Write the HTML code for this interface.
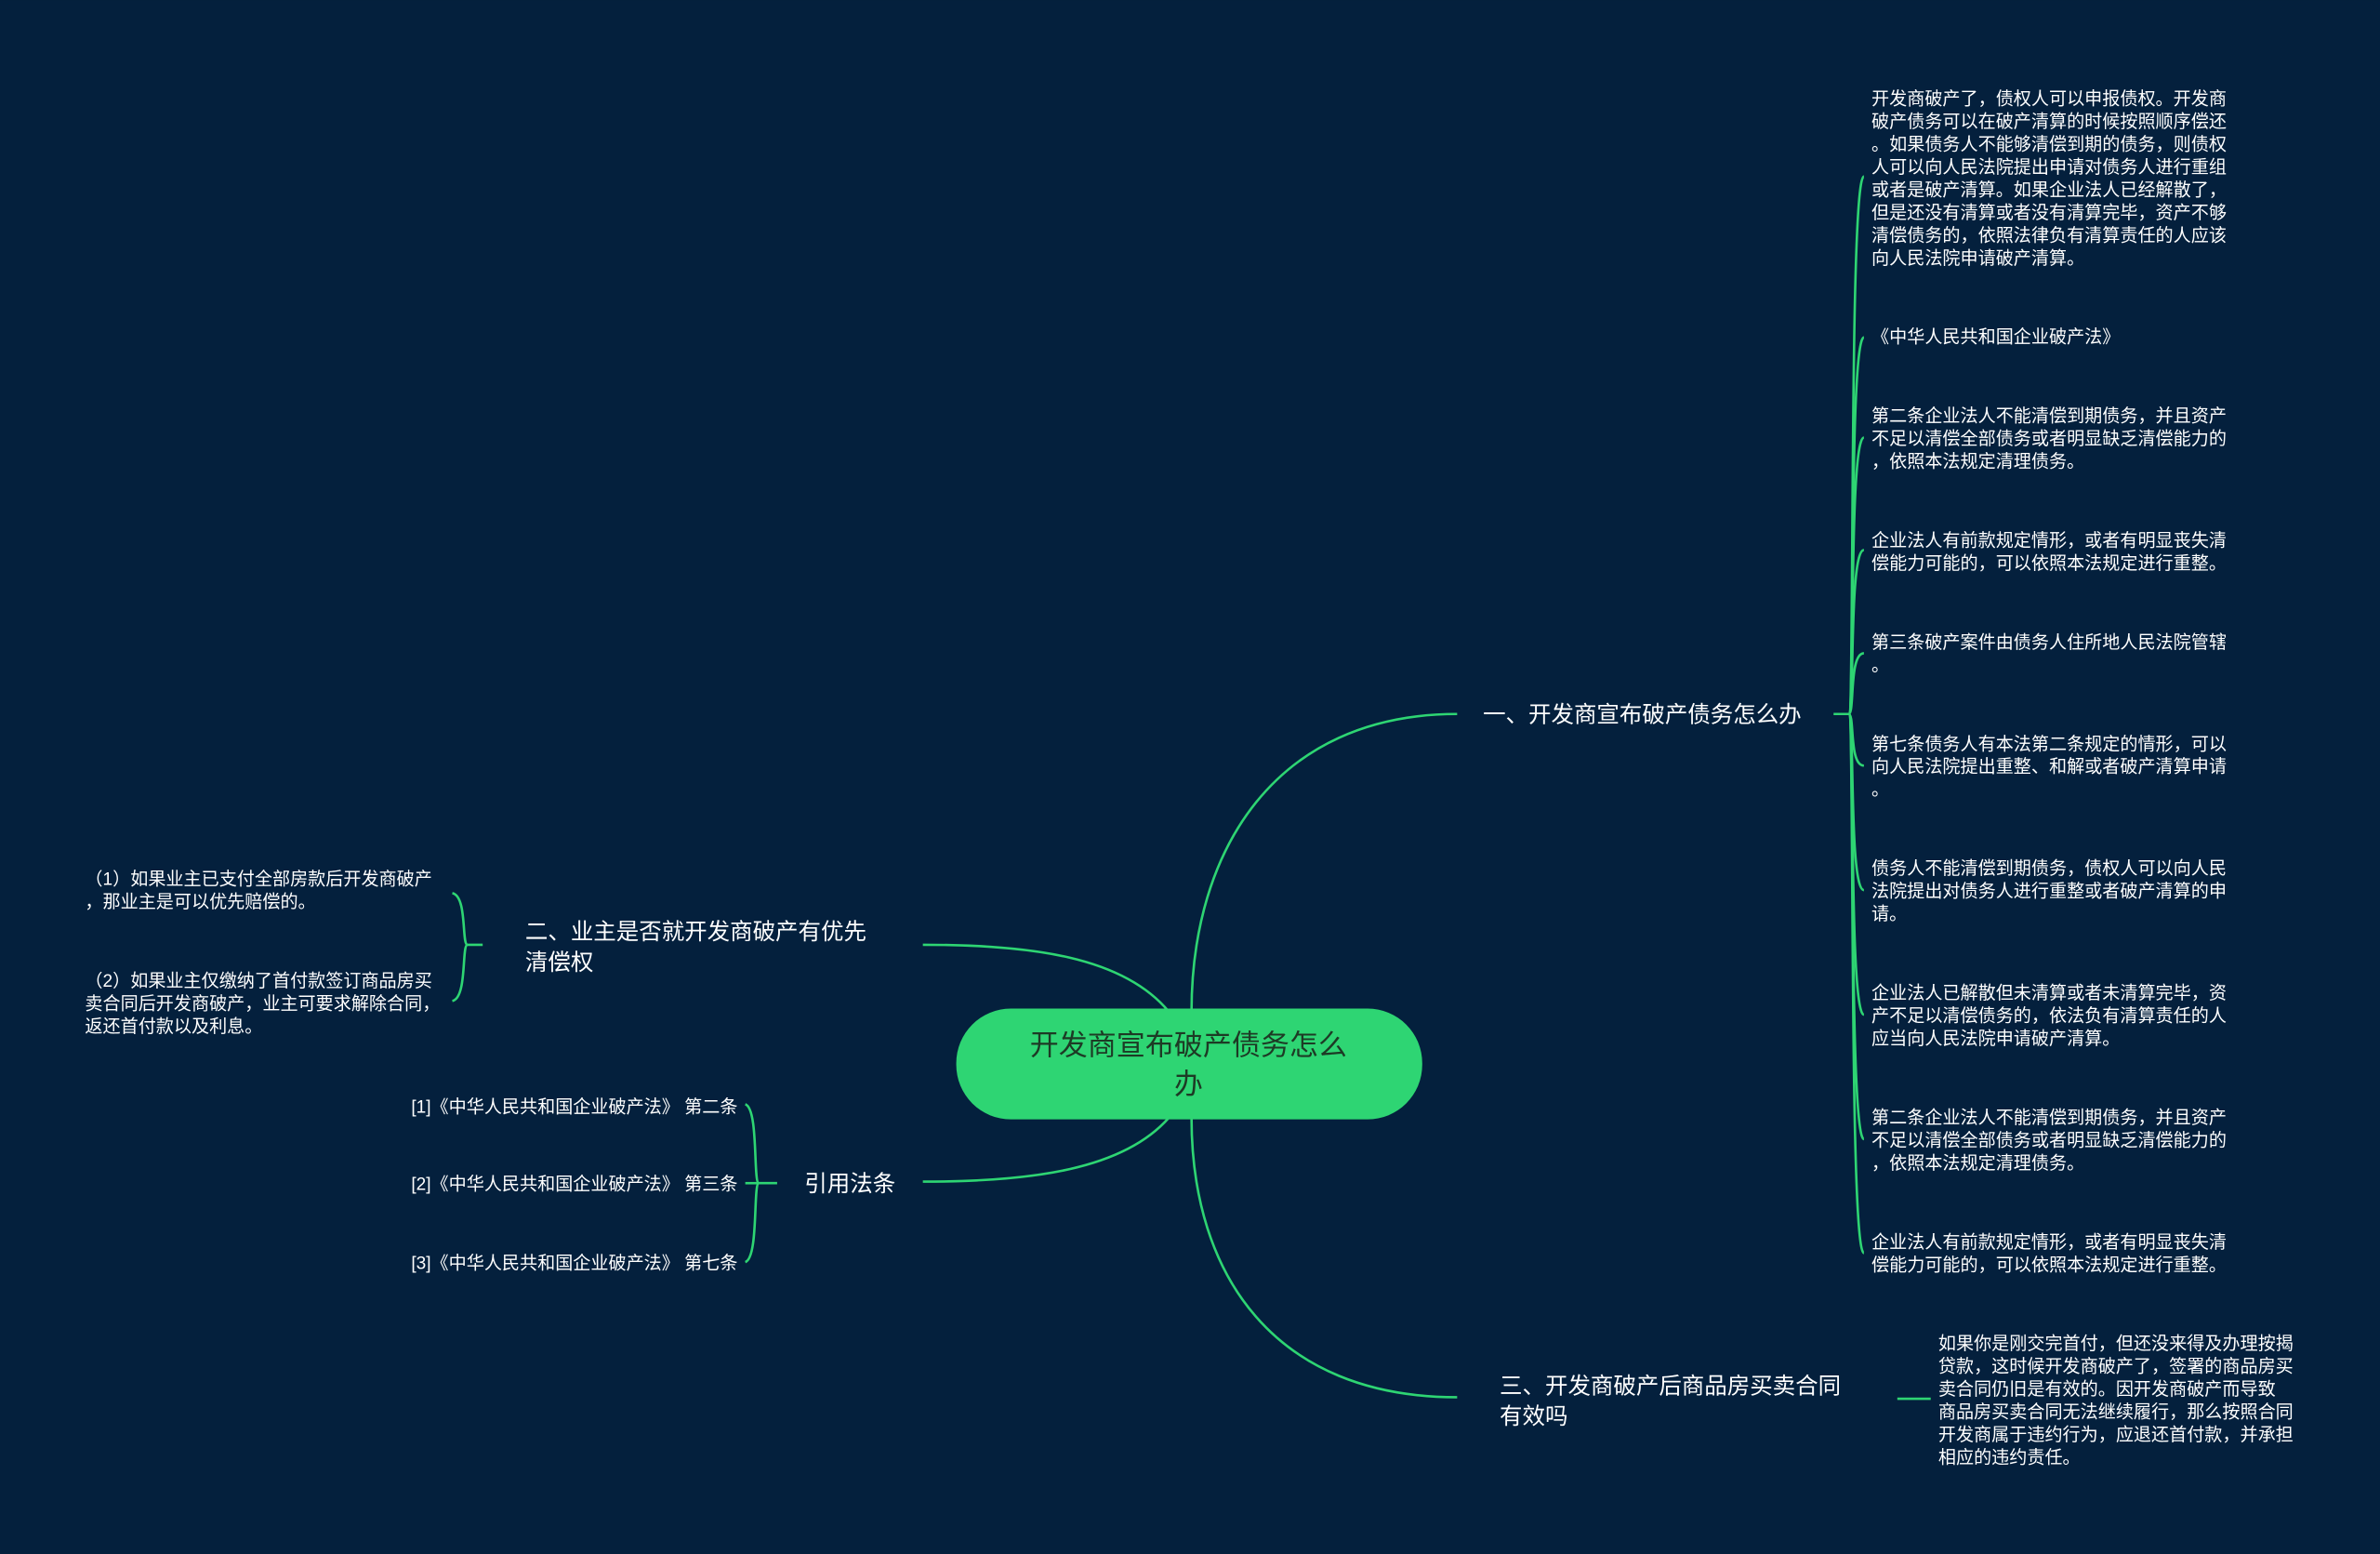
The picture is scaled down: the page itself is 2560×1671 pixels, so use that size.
<!DOCTYPE html>
<html><head><meta charset="utf-8"><style>
html,body{margin:0;padding:0;background:#04203d;}
svg{display:block}
text{font-family:"Liberation Sans","Noto Sans CJK SC",sans-serif;fill:#ffffff;dominant-baseline:middle}
.s{font-size:11.7px}
.m{font-size:15px}
</style></head><body>
<svg width="2560" height="1671" viewBox="0 0 1568 1023" xmlns="http://www.w3.org/2000/svg">
<rect width="1568" height="1023" fill="#04203d"/>
<g fill="none" stroke="#2ed573" stroke-width="1.6">
<path d="M785,666 C785,560 840,470 960,470"/>
<path d="M770,666 C740,630 680,622 608,622"/>
<path d="M770,736 C740,770 680,778 608,778"/>
<path d="M785,736 C785,840 840,920 960,920"/>
<path d="M1208,470 L1218,470"/>
<path d="M1218,470 C1222,470 1218,116 1228,116"/>
<path d="M1218,470 C1222,470 1218,222 1228,222"/>
<path d="M1218,470 C1222,470 1218,288 1228,288"/>
<path d="M1218,470 C1222,470 1218,362 1228,362"/>
<path d="M1218,470 C1222,470 1218,430 1228,430"/>
<path d="M1218,470 C1222,470 1218,504 1228,504"/>
<path d="M1218,470 C1222,470 1218,586 1228,586"/>
<path d="M1218,470 C1222,470 1218,668 1228,668"/>
<path d="M1218,470 C1222,470 1218,750 1228,750"/>
<path d="M1218,470 C1222,470 1218,825 1228,825"/>
<path d="M318,622 L308,622"/>
<path d="M308,622 C304,622 308,590 298,588"/>
<path d="M308,622 C304,622 308,657 298,659"/>
<path d="M512,779 L500,779"/>
<path d="M500,779 C496,779 500,730 491,727"/>
<path d="M500,779 L491,779"/>
<path d="M500,779 C496,779 500,828 491,831"/>
<path d="M1250,921 L1272,921"/>
</g>
<rect x="630" y="664" width="307" height="73" rx="36" fill="#2ed573"/>
<g transform="translate(0,1.5)">
<text x="783" y="688" text-anchor="middle" style="font-size:19px;fill:#1d3a25">开发商宣布破产债务怎么</text>
<text x="783" y="714" text-anchor="middle" style="font-size:19px;fill:#1d3a25">办</text>

<text class="m" x="977" y="470">一、开发商宣布破产债务怎么办</text>
<text class="m" x="346" y="613">二、业主是否就开发商破产有优先</text>
<text class="m" x="346" y="633">清偿权</text>
<text class="m" x="530" y="779">引用法条</text>
<text class="m" x="988" y="912">三、开发商破产后商品房买卖合同</text>
<text class="m" x="988" y="932">有效吗</text>

<text class="s" x="1233" y="64">开发商破产了，债权人可以申报债权。开发商</text>
<text class="s" x="1233" y="79">破产债务可以在破产清算的时候按照顺序偿还</text>
<text class="s" x="1233" y="94">。如果债务人不能够清偿到期的债务，则债权</text>
<text class="s" x="1233" y="109">人可以向人民法院提出申请对债务人进行重组</text>
<text class="s" x="1233" y="124">或者是破产清算。如果企业法人已经解散了，</text>
<text class="s" x="1233" y="139">但是还没有清算或者没有清算完毕，资产不够</text>
<text class="s" x="1233" y="154">清偿债务的，依照法律负有清算责任的人应该</text>
<text class="s" x="1233" y="169">向人民法院申请破产清算。</text>
<text class="s" x="1233" y="221">《中华人民共和国企业破产法》</text>
<text class="s" x="1233" y="273">第二条企业法人不能清偿到期债务，并且资产</text>
<text class="s" x="1233" y="288">不足以清偿全部债务或者明显缺乏清偿能力的</text>
<text class="s" x="1233" y="303">，依照本法规定清理债务。</text>
<text class="s" x="1233" y="355">企业法人有前款规定情形，或者有明显丧失清</text>
<text class="s" x="1233" y="370">偿能力可能的，可以依照本法规定进行重整。</text>
<text class="s" x="1233" y="422">第三条破产案件由债务人住所地人民法院管辖</text>
<text class="s" x="1233" y="437">。</text>
<text class="s" x="1233" y="489">第七条债务人有本法第二条规定的情形，可以</text>
<text class="s" x="1233" y="504">向人民法院提出重整、和解或者破产清算申请</text>
<text class="s" x="1233" y="519">。</text>
<text class="s" x="1233" y="571">债务人不能清偿到期债务，债权人可以向人民</text>
<text class="s" x="1233" y="586">法院提出对债务人进行重整或者破产清算的申</text>
<text class="s" x="1233" y="601">请。</text>
<text class="s" x="1233" y="653">企业法人已解散但未清算或者未清算完毕，资</text>
<text class="s" x="1233" y="668">产不足以清偿债务的，依法负有清算责任的人</text>
<text class="s" x="1233" y="683">应当向人民法院申请破产清算。</text>
<text class="s" x="1233" y="735">第二条企业法人不能清偿到期债务，并且资产</text>
<text class="s" x="1233" y="750">不足以清偿全部债务或者明显缺乏清偿能力的</text>
<text class="s" x="1233" y="765">，依照本法规定清理债务。</text>
<text class="s" x="1233" y="817">企业法人有前款规定情形，或者有明显丧失清</text>
<text class="s" x="1233" y="832">偿能力可能的，可以依照本法规定进行重整。</text>

<text class="s" x="56" y="578">（1）如果业主已支付全部房款后开发商破产</text>
<text class="s" x="56" y="593">，那业主是可以优先赔偿的。</text>
<text class="s" x="56" y="645">（2）如果业主仅缴纳了首付款签订商品房买</text>
<text class="s" x="56" y="660">卖合同后开发商破产，业主可要求解除合同，</text>
<text class="s" x="56" y="675">返还首付款以及利息。</text>

<text class="s" x="486" y="728" text-anchor="end">[1]《中华人民共和国企业破产法》 第二条</text>
<text class="s" x="486" y="779" text-anchor="end">[2]《中华人民共和国企业破产法》 第三条</text>
<text class="s" x="486" y="831" text-anchor="end">[3]《中华人民共和国企业破产法》 第七条</text>

<text class="s" x="1277" y="884">如果你是刚交完首付，但还没来得及办理按揭</text>
<text class="s" x="1277" y="899">贷款，这时候开发商破产了，签署的商品房买</text>
<text class="s" x="1277" y="914">卖合同仍旧是有效的。因开发商破产而导致</text>
<text class="s" x="1277" y="929">商品房买卖合同无法继续履行，那么按照合同</text>
<text class="s" x="1277" y="944">开发商属于违约行为，应退还首付款，并承担</text>
<text class="s" x="1277" y="959">相应的违约责任。</text>
</g>
</svg>
</body></html>
